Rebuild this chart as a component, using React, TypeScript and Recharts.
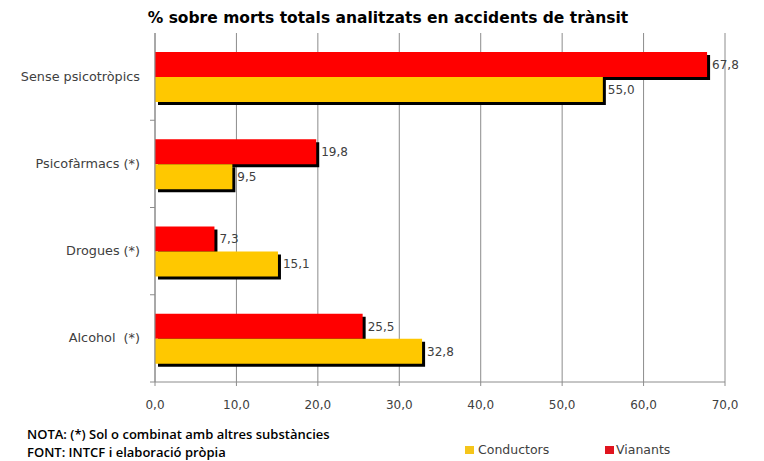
import { BarChart, Bar, XAxis, YAxis, CartesianGrid, LabelList } from 'recharts';

const categories = ['Sense psicotròpics', 'Psicofàrmacs (*)', 'Drogues (*)', 'Alcohol  (*)'];
const vianants = [67.8, 19.8, 7.3, 25.5];
const conductors = [55.0, 9.5, 15.1, 32.8];
const xTicks = [0, 10, 20, 30, 40, 50, 60, 70];

const data = categories.map((name, i) => ({
  name,
  Vianants: vianants[i],
  Conductors: conductors[i],
}));

const W = 764;
const H = 461;
const MARGIN = { top: 33, right: 39, bottom: 49, left: 0 };
const X_AXIS_H = 30;
const Y_AXIS_W = 155;
const BAND = (H - MARGIN.top - MARGIN.bottom - X_AXIS_H) / categories.length;

const FONT = '"DejaVu Sans", Verdana, sans-serif';
const NOTE_FONT = '"Open Sans", sans-serif';
const GRID = '#8c8c8c';
const TEXT = '#404040';

const fmt = (v: number) => v.toFixed(1).replace('.', ',');

// Excel-style bar with a black drop shadow on the right/bottom
function ShadowBar(props: any) {
  const { x, y, width, height, fill } = props;
  if (!width || width <= 0) return null;
  return (
    <g>
      <rect x={x + 3} y={y + 3} width={width} height={height} fill="#000" />
      <rect x={x} y={y} width={width} height={height} fill={fill} />
    </g>
  );
}

function CategoryTick(props: any) {
  const { x, y, payload } = props;
  const axisX = x + 15;
  return (
    <g>
      <text
        x={x}
        y={y}
        dy={4}
        textAnchor="end"
        fill={TEXT}
        fontSize={12.8}
        fontFamily={FONT}
        style={{ whiteSpace: 'pre' }}
      >
        {payload.value}
      </text>
      <line x1={axisX - 5} y1={y + BAND / 2} x2={axisX} y2={y + BAND / 2} stroke={GRID} />
    </g>
  );
}

export default function App() {
  return (
    <div style={{ position: 'absolute', left: 0, top: 0, width: W, height: H, background: '#fff' }}>
      <div
        style={{
          position: 'absolute',
          left: 0,
          top: 7,
          width: 776,
          textAlign: 'center',
          fontFamily: FONT,
          fontWeight: 'bold',
          fontSize: 15.5,
          lineHeight: '22px',
          color: '#000',
        }}
      >
        % sobre morts totals analitzats en accidents de trànsit
      </div>
      <BarChart
        width={W}
        height={H}
        data={data}
        layout="vertical"
        margin={MARGIN}
        barGap={0}
        barSize={25}
      >
        <CartesianGrid horizontal={false} stroke={GRID} />
        <XAxis
          type="number"
          domain={[0, 70]}
          ticks={xTicks}
          tickFormatter={fmt}
          height={X_AXIS_H}
          stroke={GRID}
          tickSize={4}
          tickMargin={14}
          tick={{ fill: TEXT, fontSize: 12, fontFamily: FONT }}
          interval={0}
        />
        <YAxis
          type="category"
          dataKey="name"
          width={Y_AXIS_W}
          stroke={GRID}
          tickLine={false}
          tickSize={0}
          tickMargin={15}
          tick={<CategoryTick />}
          interval={0}
        />
        <Bar dataKey="Vianants" fill="#ff0000" shape={<ShadowBar />} isAnimationActive={false}>
          <LabelList
            dataKey="Vianants"
            position="right"
            offset={5}
            formatter={fmt}
            fill={TEXT}
            fontSize={12}
            fontFamily={FONT}
          />
        </Bar>
        <Bar dataKey="Conductors" fill="#ffc800" shape={<ShadowBar />} isAnimationActive={false}>
          <LabelList
            dataKey="Conductors"
            position="right"
            offset={5}
            formatter={fmt}
            fill={TEXT}
            fontSize={12}
            fontFamily={FONT}
          />
        </Bar>
      </BarChart>
      <div
        style={{
          position: 'absolute',
          left: 27,
          top: 425,
          fontFamily: NOTE_FONT,
          fontWeight: 600,
          fontSize: 13,
          lineHeight: '18px',
          color: '#000',
        }}
      >
        <div>NOTA: (*) Sol o combinat amb altres substàncies</div>
        <div>FONT: INTCF i elaboració pròpia</div>
      </div>
      <div
        style={{
          position: 'absolute',
          left: 465,
          top: 442,
          display: 'flex',
          alignItems: 'center',
          fontFamily: FONT,
          fontSize: 12.5,
          color: TEXT,
        }}
      >
        <span style={{ width: 9, height: 8, background: '#f5c51a', marginRight: 4 }} />
        <span style={{ width: 127 }}>Conductors</span>
        <span style={{ width: 9, height: 8, background: '#e0141e', marginRight: 2 }} />
        <span>Vianants</span>
      </div>
    </div>
  );
}
